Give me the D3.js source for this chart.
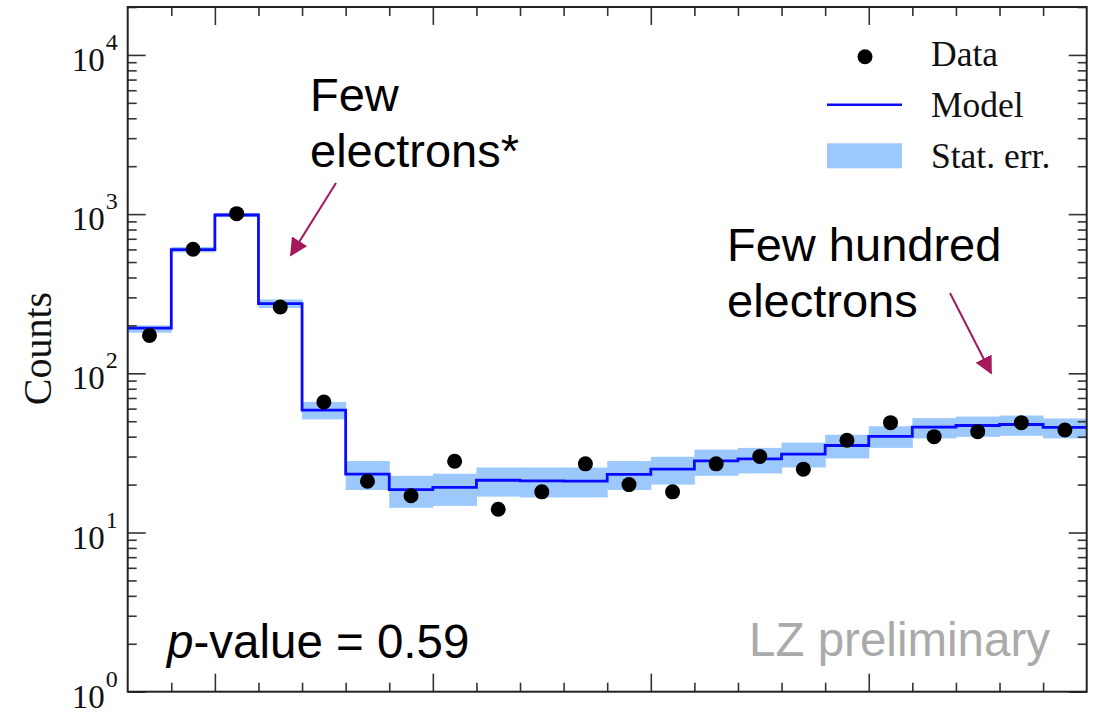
<!DOCTYPE html>
<html>
<head>
<meta charset="utf-8">
<script src="https://cdn.jsdelivr.net/npm/d3@7"></script>
<style>
  html, body { margin: 0; padding: 0; background: #fff; }
  svg { display: block; }
</style>
</head>
<body>
<div id="chart"></div>
<script>
// bin index 0..21, counts
const binCount = 22;
const dataCounts = [173, 601, 1007, 261, 66, 21, 17, 28, 14, 18, 27, 20, 18, 27, 30, 25, 38, 49, 40, 43, 49, 44];
const modelCounts = [192, 598, 987, 274, 58.7, 23.3, 18.6, 19.2, 21.3, 21.1, 21.0, 23.2, 25.0, 28.2, 29.0, 31.1, 35.2, 40.2, 45.9, 47.0, 47.7, 45.7];
const statLow = [180, 575, 958, 257, 51.3, 18.5, 14.3, 14.7, 16.8, 16.6, 16.6, 18.5, 20.0, 22.7, 23.5, 25.6, 29.2, 34.0, 39.0, 39.9, 40.5, 39.0];
const statHigh = [200, 622, 1018, 291, 66.1, 28.1, 22.7, 23.4, 25.6, 25.6, 25.6, 28.1, 29.9, 33.2, 34.0, 36.7, 41.1, 46.5, 52.3, 53.5, 54.3, 52.0];
const yMajorExps = [0, 1, 2, 3, 4];
const xMajorEdges = [2, 7, 12, 17];

const W = 1111, H = 714;
const plotLeft = 127.7, plotRight = 1086.7, plotTop = 7, plotBottom = 691.7;
const serif = "'Liberation Serif', 'Times New Roman', serif";
const sans = "'Liberation Sans', Arial, sans-serif";
const arrowColor = "#a3195b";

const svg = d3.select("#chart").append("svg")
    .attr("width", W)
    .attr("height", H);

const x = d3.scaleLinear().domain([0, binCount]).range([plotLeft, plotRight]);
const y = d3.scaleLog().domain([1, 2e4]).range([plotBottom, plotTop]);

// stat. err. band
svg.append("g")
    .selectAll("rect")
    .data(d3.range(binCount))
    .join("rect")
    .attr("x", i => x(i))
    .attr("width", x(1) - x(0) + 0.5)
    .attr("y", i => y(statHigh[i]))
    .attr("height", i => y(statLow[i]) - y(statHigh[i]))
    .attr("fill", "#9dc8fb");

// model step line
const stepPts = modelCounts.map((v, i) => [i, v]).concat([[binCount, modelCounts[binCount - 1]]]);
svg.append("path")
    .datum(stepPts)
    .attr("fill", "none")
    .attr("stroke", "#0a0aff")
    .attr("stroke-width", 2.8)
    .attr("d", d3.line().x(d => x(d[0])).y(d => y(d[1])).curve(d3.curveStepAfter));

// data points
svg.append("g")
    .selectAll("circle")
    .data(dataCounts)
    .join("circle")
    .attr("cx", (d, i) => x(i + 0.5))
    .attr("cy", d => y(d))
    .attr("r", 7.5)
    .attr("fill", "#000");

// ticks (all pointing inwards, mirrored on every side)
const yMinor = [];
yMajorExps.forEach(k => {
    for (let m = 2; m <= 9; m++) {
        const v = m * Math.pow(10, k);
        if (v <= 2e4) yMinor.push(v);
    }
});
const yMajor = yMajorExps.map(k => Math.pow(10, k));
const xMinor = d3.range(1, binCount).filter(e => !xMajorEdges.includes(e));

function styleAxis(g) {
    g.select(".domain").remove();
    g.selectAll(".tick line").attr("stroke", "#333").attr("stroke-width", 1.6);
    g.selectAll(".tick text").remove();
}

[[yMinor, 9], [yMajor, 18]].forEach(([vals, len]) => {
    svg.append("g").attr("transform", `translate(${plotLeft},0)`)
        .call(d3.axisLeft(y).tickValues(vals).tickSize(-len).tickFormat(""))
        .call(styleAxis);
    svg.append("g").attr("transform", `translate(${plotRight},0)`)
        .call(d3.axisRight(y).tickValues(vals).tickSize(-len).tickFormat(""))
        .call(styleAxis);
});
[[xMinor, 9], [xMajorEdges, 18]].forEach(([vals, len]) => {
    svg.append("g").attr("transform", `translate(0,${plotBottom})`)
        .call(d3.axisBottom(x).tickValues(vals).tickSize(-len).tickFormat(""))
        .call(styleAxis);
    svg.append("g").attr("transform", `translate(0,${plotTop})`)
        .call(d3.axisTop(x).tickValues(vals).tickSize(-len).tickFormat(""))
        .call(styleAxis);
});

// frame
svg.append("rect")
    .attr("x", plotLeft)
    .attr("y", plotTop)
    .attr("width", plotRight - plotLeft)
    .attr("height", plotBottom - plotTop)
    .attr("fill", "none")
    .attr("stroke", "#222")
    .attr("stroke-width", 2);

// y tick labels 10^k
const yLabels = svg.append("g")
    .selectAll("text")
    .data(yMajorExps)
    .join("text")
    .attr("x", plotLeft - 10)
    .attr("y", k => y(Math.pow(10, k)) + 16)
    .attr("text-anchor", "end")
    .attr("font-family", serif)
    .attr("font-size", 33)
    .attr("fill", "#111");
yLabels.append("tspan").text("10");
yLabels.append("tspan")
    .attr("dx", 1)
    .attr("dy", -21)
    .attr("font-size", 24)
    .text(k => k);

svg.append("text")
    .attr("transform", `translate(51,${(292 + 405) / 2}) rotate(-90)`)
    .attr("text-anchor", "middle")
    .attr("font-family", serif)
    .attr("font-size", 40)
    .attr("fill", "#111")
    .text("Counts");

// legend
const legend = svg.append("g").attr("font-family", serif).attr("font-size", 35.5).attr("fill", "#111");
legend.append("circle").attr("cx", 865).attr("cy", 56.7).attr("r", 7.5).attr("fill", "#000");
legend.append("line")
    .attr("x1", 827).attr("x2", 902).attr("y1", 104.7).attr("y2", 104.7)
    .attr("stroke", "#0a0aff").attr("stroke-width", 2.4);
legend.append("rect")
    .attr("x", 827).attr("y", 143.3).attr("width", 75).attr("height", 25)
    .attr("fill", "#9dc8fb");
legend.selectAll("text")
    .data(["Data", "Model", "Stat. err."])
    .join("text")
    .attr("x", 931)
    .attr("y", (d, i) => 66 + i * 51)
    .text(d => d);

// annotations
svg.append("defs").append("marker")
    .attr("id", "arrowhead")
    .attr("viewBox", "0 0 10 10")
    .attr("refX", 9)
    .attr("refY", 5)
    .attr("markerWidth", 9)
    .attr("markerHeight", 9)
    .attr("markerUnits", "strokeWidth")
    .attr("orient", "auto")
    .append("path")
    .attr("d", "M0,0 L10,5 L0,10 z")
    .attr("fill", arrowColor);

const arrows = [
    [336, 183, 291, 255],
    [950, 293, 991, 373]
];
svg.append("g")
    .selectAll("line")
    .data(arrows)
    .join("line")
    .attr("x1", d => d[0]).attr("y1", d => d[1])
    .attr("x2", d => d[2]).attr("y2", d => d[3])
    .attr("stroke", arrowColor)
    .attr("stroke-width", 2)
    .attr("marker-end", "url(#arrowhead)");

const notes = [
    { x: 310, y: 111, text: "Few" },
    { x: 310, y: 167, text: "electrons*" },
    { x: 727, y: 261, text: "Few hundred" },
    { x: 727, y: 317, text: "electrons" }
];
svg.append("g")
    .selectAll("text")
    .data(notes)
    .join("text")
    .attr("x", d => d.x)
    .attr("y", d => d.y)
    .attr("font-family", sans)
    .attr("font-size", 47)
    .attr("fill", "#000")
    .text(d => d.text);

const pText = svg.append("text")
    .attr("x", 167)
    .attr("y", 658)
    .attr("font-family", sans)
    .attr("font-size", 47.5)
    .attr("fill", "#000");
pText.append("tspan").attr("font-style", "italic").text("p");
pText.append("tspan").text("-value = 0.59");

svg.append("text")
    .attr("x", 1050)
    .attr("y", 656)
    .attr("text-anchor", "end")
    .attr("font-family", sans)
    .attr("font-size", 47.5)
    .attr("fill", "#aaaaaa")
    .text("LZ preliminary");
</script>
</body>
</html>
